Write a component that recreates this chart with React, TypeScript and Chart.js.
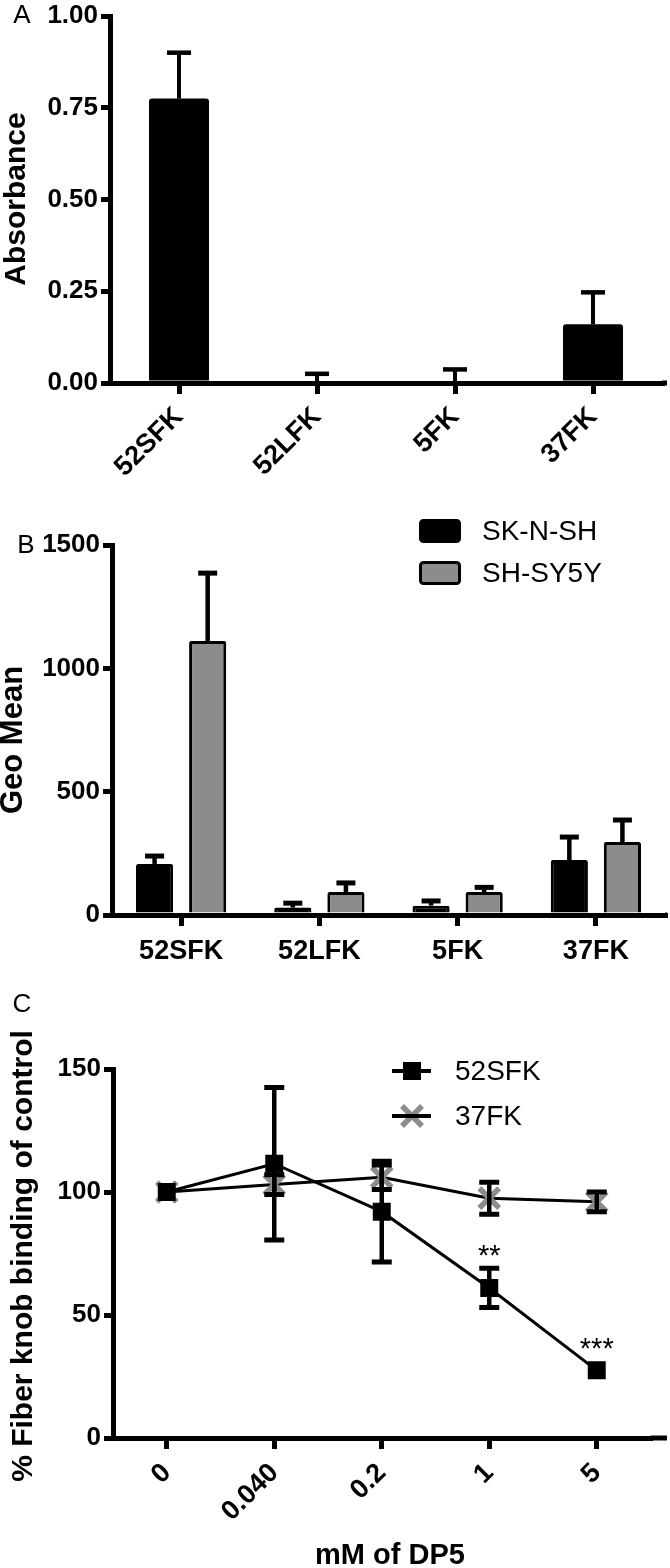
import React, { useEffect, useRef } from 'react';
import { Chart, registerables } from 'chart.js';

Chart.register(...registerables);

const FONT = "'Liberation Sans', Arial, Helvetica, sans-serif";

// ---------- Panel A : absorbance ----------
const fiberKnobs = ['52SFK', '52LFK', '5FK', '37FK'];
const absorbanceMean = [0.775, 0, 0, 0.16];
const absorbanceSD = [0.125, 0.025, 0.037, 0.087];
const absorbanceTicks = [0, 0.25, 0.5, 0.75, 1];

// ---------- Panel B : geo mean ----------
const cellLineKnobs = ['52SFK', '52LFK', '5FK', '37FK'];
const cellLines = ['SK-N-SH', 'SH-SY5Y'];
const geoMeanSKNSH = [207, 30, 38, 223];
const geoMeanSKNSH_SD = [32, 18, 19, 93];
const geoMeanSHSY5Y = [1111, 93, 93, 296];
const geoMeanSHSY5Y_SD = [275, 37, 19, 89];
const geoMeanTicks = [0, 500, 1000, 1500];

// ---------- Panel C : DP5 inhibition ----------
const dp5Doses = ['0', '0.040', '0.2', '1', '5'];
const seriesC = ['52SFK', '37FK'];
const binding52SFK = [100, 111.5, 92, 61, 27.5];
const binding52SFK_SD = [0, 31, 20.5, 8, 0];
const binding37FK = [100, 103, 106, 97.5, 96];
const binding37FK_SD = [0, 4, 5, 6.5, 4];
const significance = ['', '', '', '**', '***'];
const bindingTicks = [0, 50, 100, 150];

const GRAY = '#8c8c8c';

const tickFont = (size: number) => ({ family: FONT, size, weight: 'bold' as const, lineHeight: 1 });

function yAxis(ticks: number[], max: number, width: number, fmt: (v: number) => string) {
  return {
    type: 'linear',
    min: 0,
    max,
    afterBuildTicks: (s: any) => {
      s.ticks = ticks.map((v) => ({ value: v }));
    },
    afterFit: (s: any) => {
      s.width = width;
    },
    ticks: { color: '#000', font: tickFont(26), padding: 3, callback: (v: any) => fmt(Number(v)) },
    grid: {
      display: true,
      drawOnChartArea: false,
      drawTicks: true,
      tickLength: 9,
      lineWidth: 5,
      tickWidth: 5,
      tickColor: '#000',
      color: '#000',
    },
    border: { display: true, width: 5, color: '#000' },
  };
}

function xAxis(height: number, rotation: number, fontSize: number, padding: number, tickLength: number) {
  return {
    type: 'category',
    offset: true,
    afterFit: (s: any) => {
      s.height = height;
    },
    ticks: {
      color: '#000',
      font: tickFont(fontSize),
      padding,
      minRotation: rotation,
      maxRotation: rotation,
      autoSkip: false,
    },
    grid: {
      display: true,
      offset: false,
      drawOnChartArea: false,
      drawTicks: true,
      tickLength,
      lineWidth: 5,
      tickWidth: 5,
      tickColor: '#000',
      color: '#000',
    },
    border: { display: true, width: 5, color: '#000' },
  };
}

// Error bars from dataset.sd through the chart's own scales
const errorBars = {
  id: 'errorBars',
  afterDatasetsDraw(chart: any) {
    const ctx = chart.ctx;
    chart.data.datasets.forEach((ds: any, di: number) => {
      const sd = ds.sd;
      if (!sd) return;
      const meta = chart.getDatasetMeta(di);
      const y = chart.scales[meta.yAxisID];
      const st = ds.errStyle;
      ctx.save();
      ctx.strokeStyle = '#000';
      ctx.lineCap = 'butt';
      meta.data.forEach((el: any, i: number) => {
        const e = sd[i];
        if (!e) return;
        const m = ds.data[i];
        const x = el.x;
        const top = y.getPixelForValue(m + e);
        const bottom = st.both ? y.getPixelForValue(m - e) : y.getPixelForValue(m);
        ctx.lineWidth = st.stem;
        ctx.beginPath();
        ctx.moveTo(x, bottom);
        ctx.lineTo(x, top);
        ctx.stroke();
        ctx.lineWidth = st.capWidth;
        ctx.beginPath();
        ctx.moveTo(x - st.cap / 2, top);
        ctx.lineTo(x + st.cap / 2, top);
        if (st.both) {
          ctx.moveTo(x - st.cap / 2, bottom);
          ctx.lineTo(x + st.cap / 2, bottom);
        }
        ctx.stroke();
      });
      ctx.restore();
    });
  },
};

type TextItem = {
  text: string;
  x: number;
  y: number;
  font: string;
  rotate?: number;
  align?: CanvasTextAlign;
};

function textPlugin(items: TextItem[], extendAxisTo: number) {
  return {
    id: 'texts',
    afterDraw(chart: any) {
      const ctx = chart.ctx;
      const ca = chart.chartArea;
      ctx.save();
      // extend the x axis line to the right like the original figure
      ctx.fillStyle = '#000';
      ctx.fillRect(ca.right, ca.bottom - 2.5, extendAxisTo - ca.right, 5);
      items.forEach((it) => {
        ctx.save();
        ctx.translate(it.x, it.y);
        if (it.rotate) ctx.rotate(it.rotate);
        ctx.font = it.font;
        ctx.fillStyle = '#000';
        ctx.textAlign = it.align || 'center';
        ctx.textBaseline = 'middle';
        ctx.fillText(it.text, 0, 0);
        ctx.restore();
      });
      ctx.restore();
    },
  };
}

const legendB = {
  id: 'legendB',
  afterDraw(chart: any) {
    const ctx = chart.ctx;
    ctx.save();
    chart.data.datasets.forEach((ds: any, i: number) => {
      const cy = 31 + i * 42;
      ctx.beginPath();
      if (ctx.roundRect) ctx.roundRect(420.5, cy - 10.5, 39, 21, 3);
      else ctx.rect(420.5, cy - 10.5, 39, 21);
      ctx.fillStyle = ds.backgroundColor;
      ctx.fill();
      ctx.lineWidth = 3;
      ctx.strokeStyle = '#000';
      ctx.stroke();
      ctx.fillStyle = '#000';
      ctx.font = `28px ${FONT}`;
      ctx.textAlign = 'left';
      ctx.textBaseline = 'middle';
      ctx.fillText(ds.label, 482, cy + 1);
    });
    ctx.restore();
  },
};

const legendC = {
  id: 'legendC',
  afterDraw(chart: any) {
    const ctx = chart.ctx;
    ctx.save();
    chart.data.datasets.forEach((ds: any, i: number) => {
      const cy = 81 + i * 45;
      ctx.strokeStyle = '#000';
      ctx.lineWidth = 4;
      ctx.beginPath();
      ctx.moveTo(392, cy);
      ctx.lineTo(431, cy);
      ctx.stroke();
      if (ds.pointStyle === 'rect') {
        ctx.fillStyle = '#000';
        ctx.fillRect(403, cy - 9, 18, 18);
      } else {
        ctx.strokeStyle = ds.pointBorderColor;
        ctx.lineWidth = 5.5;
        ctx.beginPath();
        ctx.moveTo(402, cy - 10);
        ctx.lineTo(422, cy + 10);
        ctx.moveTo(422, cy - 10);
        ctx.lineTo(402, cy + 10);
        ctx.stroke();
        ctx.strokeStyle = '#000';
        ctx.lineWidth = 4;
        ctx.beginPath();
        ctx.moveTo(392, cy);
        ctx.lineTo(431, cy);
        ctx.stroke();
      }
      ctx.fillStyle = '#000';
      ctx.font = `28px ${FONT}`;
      ctx.textAlign = 'left';
      ctx.textBaseline = 'middle';
      ctx.fillText(ds.label, 455, cy + 1);
    });
    ctx.restore();
  },
};

const sigPlugin = {
  id: 'significance',
  afterDatasetsDraw(chart: any) {
    const ctx = chart.ctx;
    const meta = chart.getDatasetMeta(0);
    const y = chart.scales.y;
    ctx.save();
    ctx.fillStyle = '#000';
    ctx.font = `29px ${FONT}`;
    ctx.textAlign = 'center';
    ctx.textBaseline = 'alphabetic';
    significance.forEach((s, i) => {
      if (!s) return;
      const el = meta.data[i];
      const m = binding52SFK[i];
      const e = binding52SFK_SD[i];
      const topPx = e ? y.getPixelForValue(m + e) : el.y - 9;
      ctx.fillText(s, el.x, topPx - 3);
    });
    ctx.restore();
  },
};

function configA(): any {
  return {
    type: 'bar',
    data: {
      labels: fiberKnobs,
      datasets: [
        {
          label: 'Absorbance',
          data: absorbanceMean,
          sd: absorbanceSD,
          errStyle: { both: false, stem: 4, capWidth: 4.5, cap: 24 },
          backgroundColor: '#000',
          borderColor: '#000',
          borderWidth: 0,
          borderRadius: 3,
          categoryPercentage: 1,
          barPercentage: 0.435,
        },
      ],
    },
    options: {
      animation: false,
      responsive: false,
      events: [],
      layout: { padding: { top: 15, left: 0, right: 8, bottom: 0 } },
      plugins: { legend: { display: false }, tooltip: { enabled: false } },
      scales: {
        x: xAxis(117, 45, 27, 9, 11),
        y: yAxis(absorbanceTicks, 1, 110, (v) => v.toFixed(2)),
      },
    },
    plugins: [
      errorBars,
      textPlugin(
        [
          { text: 'A', x: 22, y: 16, font: `26px ${FONT}` },
          { text: 'Absorbance', x: 17, y: 199, font: `bold 30px ${FONT}`, rotate: -Math.PI / 2 },
        ],
        667
      ),
    ],
  };
}

function configB(): any {
  const err = { both: false, stem: 4.5, capWidth: 5, cap: 19 };
  return {
    type: 'bar',
    data: {
      labels: cellLineKnobs,
      datasets: [
        {
          label: cellLines[0],
          data: geoMeanSKNSH,
          sd: geoMeanSKNSH_SD,
          errStyle: err,
          backgroundColor: '#000',
          borderColor: '#000',
          borderWidth: 3,
          borderRadius: 2,
          categoryPercentage: 0.768,
          barPercentage: 0.7,
        },
        {
          label: cellLines[1],
          data: geoMeanSHSY5Y,
          sd: geoMeanSHSY5Y_SD,
          errStyle: err,
          backgroundColor: GRAY,
          borderColor: '#000',
          borderWidth: 3,
          borderRadius: 2,
          categoryPercentage: 0.768,
          barPercentage: 0.7,
        },
      ],
    },
    options: {
      animation: false,
      responsive: false,
      events: [],
      layout: { padding: { top: 45, left: 0, right: 5, bottom: 0 } },
      plugins: { legend: { display: false }, tooltip: { enabled: false } },
      scales: {
        x: xAxis(75, 0, 27, 12, 11),
        y: yAxis(geoMeanTicks, 1500, 112, (v) => String(v)),
      },
    },
    plugins: [
      errorBars,
      legendB,
      textPlugin(
        [
          { text: 'B', x: 26, y: 46, font: `26px ${FONT}` },
          { text: 'Geo Mean', x: 13, y: 240, font: `bold 31px ${FONT}`, rotate: -Math.PI / 2 },
        ],
        667
      ),
    ],
  };
}

function configC(): any {
  const err = { both: true, stem: 4.5, capWidth: 5, cap: 20 };
  return {
    type: 'line',
    data: {
      labels: dp5Doses,
      datasets: [
        {
          label: seriesC[0],
          data: binding52SFK,
          sd: binding52SFK_SD,
          errStyle: err,
          borderColor: '#000',
          borderWidth: 3,
          tension: 0,
          pointStyle: 'rect',
          pointRadius: 12.7,
          pointBackgroundColor: '#000',
          pointBorderColor: '#000',
          pointBorderWidth: 0,
        },
        {
          label: seriesC[1],
          data: binding37FK,
          sd: binding37FK_SD,
          errStyle: err,
          borderColor: '#000',
          borderWidth: 3,
          tension: 0,
          pointStyle: 'crossRot',
          pointRadius: 14,
          pointBackgroundColor: GRAY,
          pointBorderColor: GRAY,
          pointBorderWidth: 5.5,
        },
      ],
    },
    options: {
      animation: false,
      responsive: false,
      events: [],
      layout: { padding: { top: 79, left: 0, right: 5, bottom: 0 } },
      plugins: { legend: { display: false }, tooltip: { enabled: false } },
      scales: {
        x: xAxis(130, 45, 27, 10, 11),
        y: yAxis(bindingTicks, 150, 113, (v) => String(v)),
      },
    },
    plugins: [
      errorBars,
      sigPlugin,
      legendC,
      textPlugin(
        [
          { text: 'C', x: 22, y: 15, font: `26px ${FONT}` },
          {
            text: '% Fiber knob binding of control',
            x: 24,
            y: 266,
            font: `bold 30px ${FONT}`,
            rotate: -Math.PI / 2,
          },
          { text: 'mM of DP5', x: 390, y: 566, font: `bold 29px ${FONT}` },
        ],
        667
      ),
    ],
  };
}

function Panel({ top, height, build }: { top: number; height: number; build: () => any }) {
  const ref = useRef<HTMLCanvasElement>(null);
  useEffect(() => {
    const chart = new Chart(ref.current as HTMLCanvasElement, build());
    return () => chart.destroy();
  }, []);
  return (
    <canvas
      ref={ref}
      width={670}
      height={height}
      style={{ position: 'absolute', left: 0, top, width: 670, height }}
    />
  );
}

export default function App() {
  return (
    <div style={{ position: 'absolute', left: 0, top: 0, width: 670, height: 1568, background: '#fff' }}>
      <Panel top={0} height={500} build={configA} />
      <Panel top={500} height={490} build={configB} />
      <Panel top={990} height={578} build={configC} />
    </div>
  );
}
